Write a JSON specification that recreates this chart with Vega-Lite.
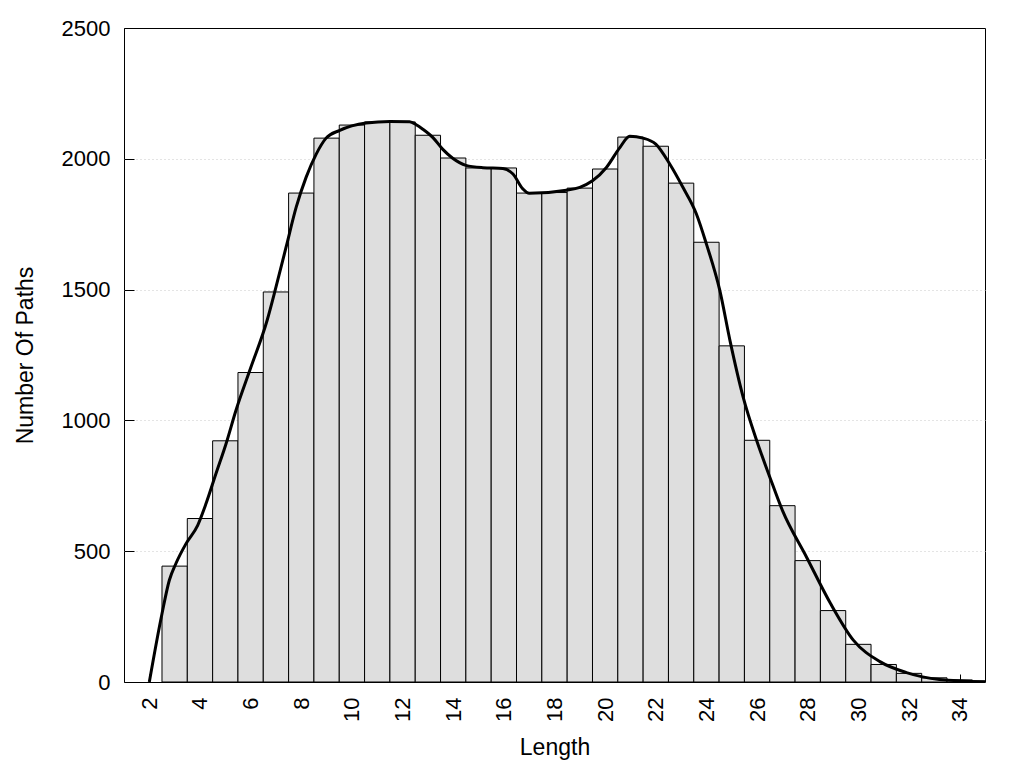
{
  "$schema": "https://vega.github.io/schema/vega-lite/v6.json",
  "width": 861,
  "height": 654,
  "autosize": {"type": "none"},
  "padding": {"left": 124, "top": 28, "right": 39, "bottom": 86},
  "background": "white",
  "config": {
    "font": "Liberation Sans",
    "view": {"stroke": "black", "strokeWidth": 1},
    "axis": {
      "labelFont": "Liberation Sans",
      "titleFont": "Liberation Sans",
      "labelFontSize": 22,
      "titleFontSize": 23,
      "titleFontWeight": "normal",
      "labelColor": "black",
      "titleColor": "black",
      "tickColor": "black",
      "tickWidth": 1,
      "domain": false
    }
  },
  "datasets": {
    "bars": [
      {"length": 3, "bin_start": 2.5, "bin_end": 3.5, "paths": 443},
      {"length": 4, "bin_start": 3.5, "bin_end": 4.5, "paths": 625},
      {"length": 5, "bin_start": 4.5, "bin_end": 5.5, "paths": 922},
      {"length": 6, "bin_start": 5.5, "bin_end": 6.5, "paths": 1183},
      {"length": 7, "bin_start": 6.5, "bin_end": 7.5, "paths": 1491},
      {"length": 8, "bin_start": 7.5, "bin_end": 8.5, "paths": 1869},
      {"length": 9, "bin_start": 8.5, "bin_end": 9.5, "paths": 2079},
      {"length": 10, "bin_start": 9.5, "bin_end": 10.5, "paths": 2129},
      {"length": 11, "bin_start": 10.5, "bin_end": 11.5, "paths": 2141},
      {"length": 12, "bin_start": 11.5, "bin_end": 12.5, "paths": 2141},
      {"length": 13, "bin_start": 12.5, "bin_end": 13.5, "paths": 2090},
      {"length": 14, "bin_start": 13.5, "bin_end": 14.5, "paths": 2003},
      {"length": 15, "bin_start": 14.5, "bin_end": 15.5, "paths": 1965},
      {"length": 16, "bin_start": 15.5, "bin_end": 16.5, "paths": 1965},
      {"length": 17, "bin_start": 16.5, "bin_end": 17.5, "paths": 1869},
      {"length": 18, "bin_start": 17.5, "bin_end": 18.5, "paths": 1871},
      {"length": 19, "bin_start": 18.5, "bin_end": 19.5, "paths": 1888},
      {"length": 20, "bin_start": 19.5, "bin_end": 20.5, "paths": 1961},
      {"length": 21, "bin_start": 20.5, "bin_end": 21.5, "paths": 2083},
      {"length": 22, "bin_start": 21.5, "bin_end": 22.5, "paths": 2048},
      {"length": 23, "bin_start": 22.5, "bin_end": 23.5, "paths": 1907},
      {"length": 24, "bin_start": 23.5, "bin_end": 24.5, "paths": 1681},
      {"length": 25, "bin_start": 24.5, "bin_end": 25.5, "paths": 1285},
      {"length": 26, "bin_start": 25.5, "bin_end": 26.5, "paths": 924},
      {"length": 27, "bin_start": 26.5, "bin_end": 27.5, "paths": 674},
      {"length": 28, "bin_start": 27.5, "bin_end": 28.5, "paths": 464},
      {"length": 29, "bin_start": 28.5, "bin_end": 29.5, "paths": 273},
      {"length": 30, "bin_start": 29.5, "bin_end": 30.5, "paths": 144},
      {"length": 31, "bin_start": 30.5, "bin_end": 31.5, "paths": 67},
      {"length": 32, "bin_start": 31.5, "bin_end": 32.5, "paths": 33},
      {"length": 33, "bin_start": 32.5, "bin_end": 33.5, "paths": 16},
      {"length": 34, "bin_start": 33.5, "bin_end": 34.5, "paths": 8},
      {"length": 35, "bin_start": 34.5, "bin_end": 35.5, "paths": 3}
    ],
    "curve": [
      {"length": 2.0, "paths": 0},
      {"length": 2.5, "paths": 261},
      {"length": 2.79, "paths": 389},
      {"length": 3.05, "paths": 453},
      {"length": 3.45, "paths": 529},
      {"length": 3.91, "paths": 599},
      {"length": 4.24, "paths": 682},
      {"length": 4.63, "paths": 796},
      {"length": 5.03, "paths": 911},
      {"length": 5.42, "paths": 1038},
      {"length": 6.0, "paths": 1200},
      {"length": 6.65, "paths": 1382},
      {"length": 7.0, "paths": 1509},
      {"length": 7.4, "paths": 1662},
      {"length": 7.8, "paths": 1815},
      {"length": 8.19, "paths": 1929},
      {"length": 8.59, "paths": 2018},
      {"length": 8.98, "paths": 2079},
      {"length": 9.5, "paths": 2108},
      {"length": 10.56, "paths": 2137},
      {"length": 11.5, "paths": 2143},
      {"length": 12.28, "paths": 2142},
      {"length": 12.54, "paths": 2130},
      {"length": 12.8, "paths": 2113},
      {"length": 13.2, "paths": 2081},
      {"length": 13.59, "paths": 2036},
      {"length": 13.98, "paths": 2002},
      {"length": 14.5, "paths": 1975},
      {"length": 15.17, "paths": 1966},
      {"length": 15.96, "paths": 1963},
      {"length": 16.36, "paths": 1942},
      {"length": 16.75, "paths": 1885},
      {"length": 17.0, "paths": 1868},
      {"length": 18.47, "paths": 1880},
      {"length": 19.0, "paths": 1891},
      {"length": 19.5, "paths": 1916},
      {"length": 20.05, "paths": 1967},
      {"length": 20.58, "paths": 2043},
      {"length": 20.97, "paths": 2086},
      {"length": 21.5, "paths": 2079},
      {"length": 22.0, "paths": 2056},
      {"length": 22.55, "paths": 1980},
      {"length": 23.07, "paths": 1891},
      {"length": 23.6, "paths": 1790},
      {"length": 24.0, "paths": 1674},
      {"length": 24.53, "paths": 1496},
      {"length": 24.93, "paths": 1305},
      {"length": 25.45, "paths": 1089},
      {"length": 25.98, "paths": 924},
      {"length": 26.5, "paths": 784},
      {"length": 27.0, "paths": 656},
      {"length": 27.95, "paths": 478},
      {"length": 28.9, "paths": 300},
      {"length": 29.8, "paths": 160},
      {"length": 30.85, "paths": 78},
      {"length": 31.9, "paths": 36},
      {"length": 33.2, "paths": 10},
      {"length": 35.0, "paths": 1}
    ]
  },
  "layer": [
    {
      "data": {"name": "bars"},
      "mark": {"type": "bar", "fill": "#dedede", "stroke": "black", "strokeWidth": 1, "clip": true},
      "encoding": {
        "x": {
          "field": "bin_start",
          "type": "quantitative",
          "scale": {"domain": [1, 35], "nice": false, "zero": false},
          "axis": {
            "title": "Length",
            "values": [2, 4, 6, 8, 10, 12, 14, 16, 18, 20, 22, 24, 26, 28, 30, 32, 34],
            "labelAngle": -90,
            "labelAlign": "right",
            "labelBaseline": "middle",
            "tickSize": -8,
            "labelPadding": 23,
            "titlePadding": 15,
            "grid": false
          }
        },
        "x2": {"field": "bin_end"},
        "y": {
          "field": "paths",
          "type": "quantitative",
          "scale": {"domain": [0, 2500], "nice": false},
          "axis": {
            "title": "Number Of Paths",
            "values": [0, 500, 1000, 1500, 2000, 2500],
            "format": "d",
            "tickSize": -10,
            "labelPadding": 24,
            "titlePadding": 24,
            "grid": true,
            "gridColor": "#c8c8c8",
            "gridDash": [1, 3],
            "gridWidth": 1,
            "gridOpacity": {"condition": {"test": "datum.value >= 2500 || datum.value <= 0", "value": 0}, "value": 1}
          }
        },
        "y2": {"datum": 0}
      }
    },
    {
      "data": {"name": "curve"},
      "mark": {"type": "line", "color": "black", "strokeWidth": 3, "interpolate": "monotone", "clip": true},
      "encoding": {
        "x": {"field": "length", "type": "quantitative"},
        "y": {"field": "paths", "type": "quantitative"}
      }
    }
  ]
}
